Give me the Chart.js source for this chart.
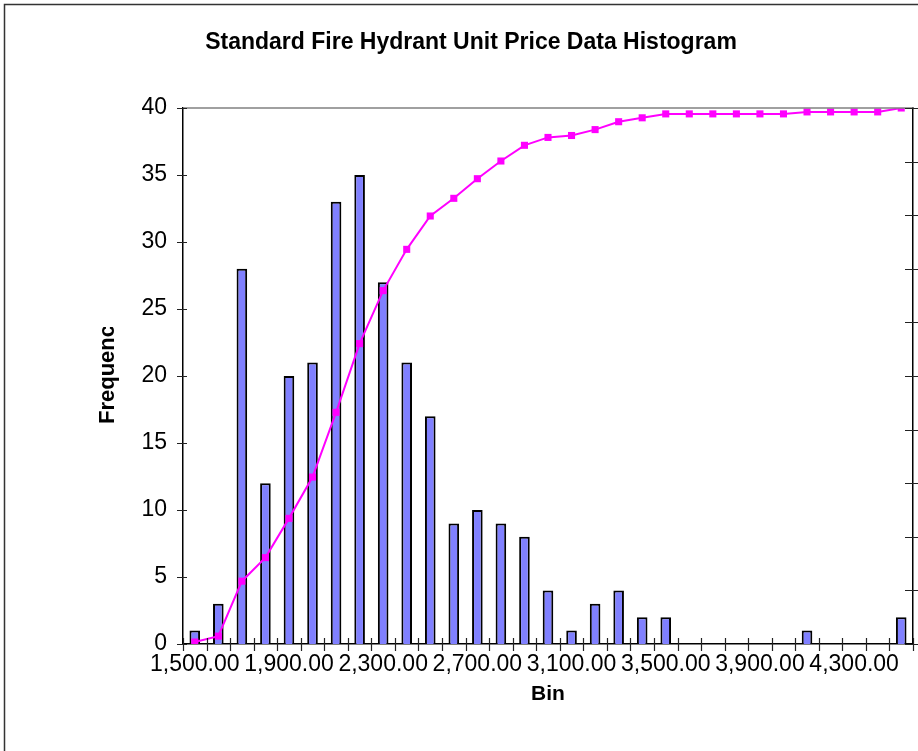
<!DOCTYPE html>
<html>
<head>
<meta charset="utf-8">
<title>Standard Fire Hydrant Unit Price Data Histogram</title>
<script src="https://cdn.jsdelivr.net/npm/chart.js@4.4.1/dist/chart.umd.min.js"></script>
<style>
  html, body { margin: 0; padding: 0; background: #fff; }
  #wrap { width: 918px; height: 751px; position: relative; }
</style>
</head>
<body>
<div id="wrap"><canvas id="hist-chart" width="918" height="751"></canvas></div>
<script>
// bins (unit price) and counts per bin
const BINS = [
  1500, 1600, 1700, 1800, 1900, 2000, 2100, 2200, 2300, 2400,
  2500, 2600, 2700, 2800, 2900, 3000, 3100, 3200, 3300, 3400,
  3500, 3600, 3700, 3800, 3900, 4000, 4100, 4200, 4300, 4400, 4500,
];
const FREQ = [
  1, 3, 28, 12, 20, 21, 33, 35, 27, 21,
  17, 9, 10, 9, 8, 4, 1, 3, 4, 2,
  2, 0, 0, 0, 0, 0, 1, 0, 0, 0, 2,
];
// cumulative %, plotted on the secondary axis
const CUM_PCT = [
  0.37, 1.47, 11.72, 16.12, 23.44, 31.14, 43.22, 56.04, 65.93, 73.63,
  79.85, 83.15, 86.81, 90.11, 93.04, 94.51, 94.87, 95.97, 97.44, 98.17,
  98.90, 98.90, 98.90, 98.90, 98.90, 98.90, 99.27, 99.27, 99.27, 99.27, 100.00,
];
const Y_TICKS = [0, 5, 10, 15, 20, 25, 30, 35, 40];

const TITLE = 'Standard Fire Hydrant Unit Price Data Histogram';
const FONT = 'Arial, "Liberation Sans", sans-serif';
const AXIS_COLOR = '#000';

const fmtBin = v => v.toLocaleString('en-US', { minimumFractionDigits: 2, maximumFractionDigits: 2 });

// frame, title, plot border, cross tick marks and the clipped y title
const excelFrame = {
  id: 'excelFrame',
  beforeDraw(chart) {
    const { ctx } = chart;
    ctx.save();
    ctx.fillStyle = '#fff';
    ctx.fillRect(0, 0, chart.width, chart.height);
    ctx.strokeStyle = '#333';
    ctx.lineWidth = 1.5;
    ctx.beginPath();
    ctx.moveTo(4.5, chart.height);
    ctx.lineTo(4.5, 4.5);
    ctx.lineTo(chart.width, 4.5);
    ctx.stroke();

    ctx.fillStyle = '#000';
    ctx.font = `bold 23px ${FONT}`;
    ctx.textAlign = 'center';
    ctx.textBaseline = 'middle';
    ctx.fillText(TITLE, 471, 43);
    ctx.restore();
  },
  afterDraw(chart) {
    const { ctx, chartArea: a } = chart;
    const x = chart.scales.x, y = chart.scales.y, y1 = chart.scales.y1;
    ctx.save();
    // plot area top edge
    ctx.strokeStyle = '#808080';
    ctx.lineWidth = 1.5;
    ctx.beginPath();
    ctx.moveTo(a.left, a.top);
    ctx.lineTo(a.right, a.top);
    ctx.stroke();

    ctx.strokeStyle = '#222';
    ctx.lineWidth = 1.2;
    ctx.beginPath();
    // category boundaries on the bin axis
    const step = x.getPixelForValue(1) - x.getPixelForValue(0);
    for (let i = 0; i <= BINS.length; i++) {
      const px = Math.round(x.getPixelForValue(i) - step / 2) + 0.5;
      ctx.moveTo(px, a.bottom - 6);
      ctx.lineTo(px, a.bottom + 7);
    }
    Y_TICKS.forEach(v => {
      const py = Math.round(y.getPixelForValue(v)) + 0.5;
      ctx.moveTo(a.left - 6, py);
      ctx.lineTo(a.left + 4, py);
    });
    for (let v = 0; v <= 100; v += 10) {
      const py = Math.round(y1.getPixelForValue(v)) + 0.5;
      ctx.moveTo(a.right - 8, py);
      ctx.lineTo(a.right + 6, py);
    }
    ctx.stroke();

    // y title, cut off by the label box
    ctx.beginPath();
    ctx.rect(80, 327, 60, 200);
    ctx.clip();
    ctx.translate(108, 424);
    ctx.rotate(-Math.PI / 2);
    ctx.fillStyle = '#000';
    ctx.font = `bold 22px ${FONT}`;
    ctx.textAlign = 'left';
    ctx.textBaseline = 'middle';
    ctx.fillText('Frequency', 0, 0);
    ctx.restore();
  },
};

new Chart(document.getElementById('hist-chart'), {
  data: {
    labels: BINS.map(fmtBin),
    datasets: [
      {
        type: 'line',
        label: 'Cumulative %',
        data: CUM_PCT,
        yAxisID: 'y1',
        borderColor: '#FF00FF',
        backgroundColor: '#FF00FF',
        borderWidth: 2,
        pointStyle: 'rect',
        pointRadius: 5,
        pointBorderWidth: 0,
        tension: 0,
        order: 0,
      },
      {
        type: 'bar',
        label: 'Frequency',
        data: FREQ,
        yAxisID: 'y',
        backgroundColor: '#8080FF',
        borderColor: '#000',
        borderWidth: 2,
        barPercentage: 0.45,
        categoryPercentage: 1,
        order: 1,
      },
    ],
  },
  options: {
    responsive: false,
    animation: false,
    layout: { padding: { left: 0, right: 0, top: 108, bottom: 0 } },
    plugins: {
      legend: { display: false },
      tooltip: { enabled: false },
      title: { display: false },
    },
    scales: {
      x: {
        grid: { display: false, drawTicks: false, offset: true },
        border: { display: true, color: AXIS_COLOR, width: 1.5 },
        ticks: {
          autoSkip: false,
          maxRotation: 0,
          padding: 7,
          color: '#000',
          font: { family: FONT, size: 23 },
          callback: (v, i) => (i % 4 === 0 ? fmtBin(BINS[i]) : ''),
        },
        title: {
          display: true,
          text: 'Bin',
          color: '#000',
          font: { family: FONT, size: 21, weight: 'bold', lineHeight: 1.2 },
          padding: { top: 4, bottom: 44 },
        },
        afterFit: s => { s.height = 107; },
      },
      y: {
        position: 'left',
        min: 0,
        max: 40,
        grid: { display: false, drawTicks: false },
        border: { display: true, color: AXIS_COLOR, width: 1.5 },
        ticks: {
          stepSize: 5,
          padding: 16,
          color: '#000',
          font: { family: FONT, size: 23 },
        },
        afterFit: s => { s.width = 183; },
      },
      y1: {
        position: 'right',
        min: 0,
        max: 100,
        grid: { display: false, drawTicks: false },
        border: { display: true, color: AXIS_COLOR, width: 1.5 },
        ticks: { display: false, stepSize: 10 },
        afterFit: s => { s.width = 4; },
      },
    },
  },
  plugins: [excelFrame],
});
</script>
</body>
</html>
